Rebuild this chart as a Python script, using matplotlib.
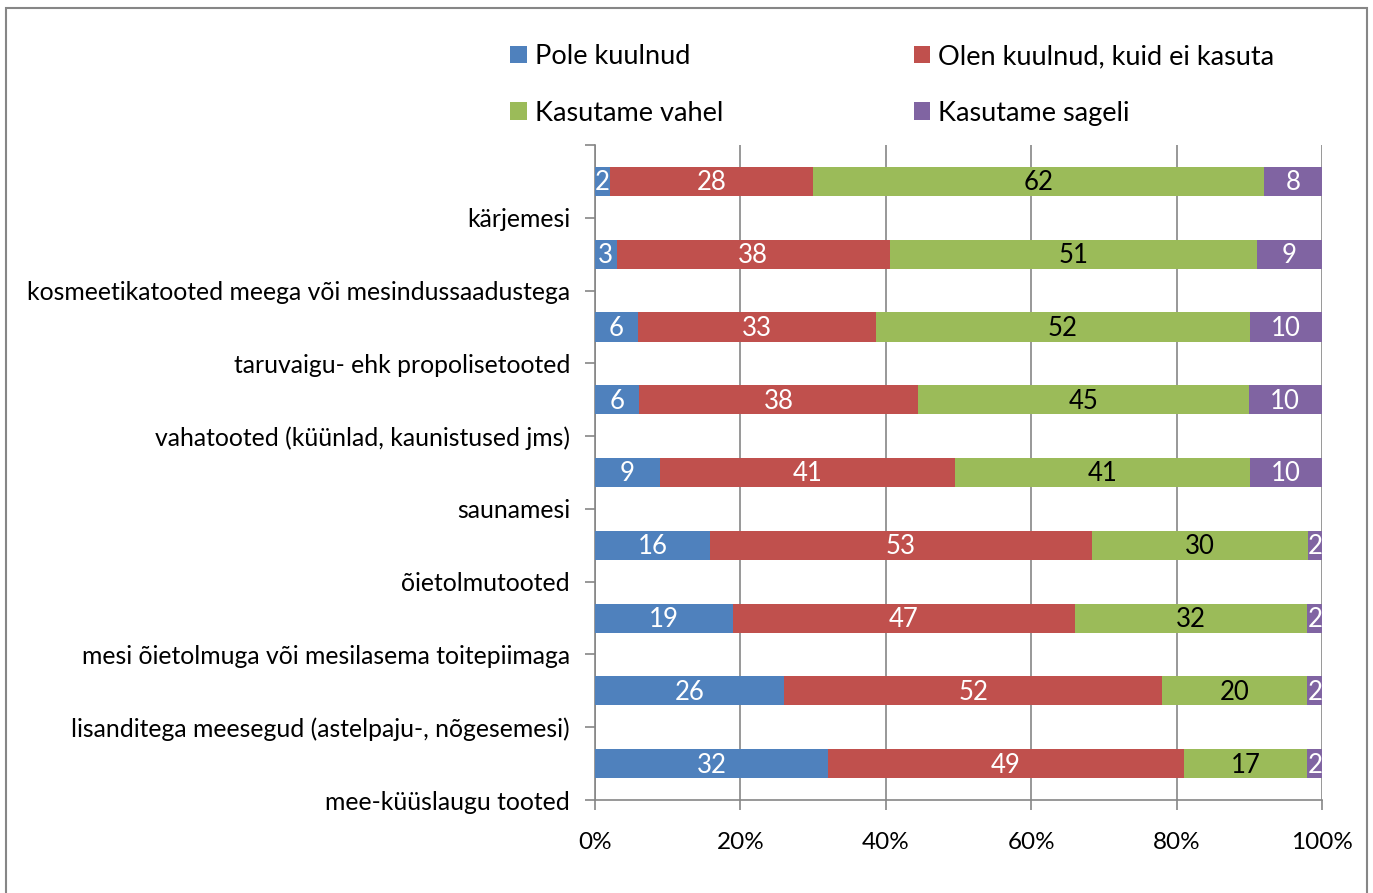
import numpy as np
import matplotlib
matplotlib.use('Agg')
import matplotlib.pyplot as plt
from matplotlib.patches import Rectangle

plt.rcParams['font.family'] = ['Lato', 'DejaVu Sans']

# Andmed (ülevalt alla)
kategooriad = ['kärjemesi',
               'kosmeetikatooted meega või mesindussaadustega',
               'taruvaigu- ehk propolisetooted',
               'vahatooted (küünlad, kaunistused jms)',
               'saunamesi',
               'õietolmutooted',
               'mesi õietolmuga või mesilasema toitepiimaga',
               'lisanditega meesegud (astelpaju-, nõgesemesi)',
               'mee-küüslaugu tooted']
seeriad = ['Pole kuulnud', 'Olen kuulnud, kuid ei kasuta',
           'Kasutame vahel', 'Kasutame sageli']
pole_kuulnud = [2, 3, 6, 6, 9, 16, 19, 26, 32]
ei_kasuta = [28, 38, 33, 38, 41, 53, 47, 52, 49]
vahel = [62, 51, 52, 45, 41, 30, 32, 20, 17]
sageli = [8, 9, 10, 10, 10, 2, 2, 2, 2]
x_ticks = [0, 20, 40, 60, 80, 100]

varvid = ['#4F81BD', '#C0504D', '#9BBB59', '#8064A2']
teksti_varv = ['white', 'white', 'black', 'white']

vaartused = np.array([pole_kuulnud, ei_kasuta, vahel, sageli], dtype=float)
protsendid = vaartused / vaartused.sum(axis=0) * 100  # 100% virnastatud

fig = plt.figure(figsize=(13.73, 8.93), dpi=100)
ax = fig.add_axes([595/1373, 1-800/893, 727/1373, 655/893])

y = np.arange(len(kategooriad)) + 0.5
vasak = np.zeros(len(kategooriad))
ribad = []
for k in range(4):
    r = ax.barh(y, protsendid[k], left=vasak, height=0.4, color=varvid[k],
                label=seeriad[k], zorder=3)
    ribad.append(r)
    for i in range(len(kategooriad)):
        ax.text(vasak[i] + protsendid[k][i]/2, y[i] + 0.02, '%d' % vaartused[k][i],
                ha='center', va='center', fontsize=18.5, color=teksti_varv[k],
                zorder=4)
    vasak += protsendid[k]

ax.set_xlim(0, 100)
ax.set_ylim(len(kategooriad), 0)
ax.set_xticks(x_ticks)
ax.set_xticklabels(['%d%%' % t for t in x_ticks], fontsize=17.5)
ax.set_yticks(np.arange(len(kategooriad) + 1))
ax.set_yticklabels([''] + kategooriad, fontsize=17.8)
ax.tick_params(axis='both', direction='out', length=7, color='#868686', width=1.2)
ax.tick_params(axis='x', pad=16)
ax.tick_params(axis='y', pad=11)
ax.xaxis.grid(True, color='#868686', linewidth=1.2, zorder=0)
for s in ['top', 'right']:
    ax.spines[s].set_visible(False)
for s in ['left', 'bottom']:
    ax.spines[s].set_color('#868686')
    ax.spines[s].set_linewidth(1.2)

# legend ridade kaupa
h = [ribad[0], ribad[2], ribad[1], ribad[3]]
l = [seeriad[0], seeriad[2], seeriad[1], seeriad[3]]
fig.legend(h, l, ncol=2, loc='upper left', bbox_to_anchor=(486/1373, 1-20/893),
           frameon=False, fontsize=19.5, handlelength=0.6, handleheight=0.6,
           handletextpad=0.3, columnspacing=7.05, labelspacing=1.15)

fig.patches.append(Rectangle((6/1373, -0.05), (1367-6)/1373, 1.05 - 8/893,
                             transform=fig.transFigure, fill=False,
                             edgecolor='#868686', linewidth=1.5))

fig.savefig('out.png', dpi=100)
